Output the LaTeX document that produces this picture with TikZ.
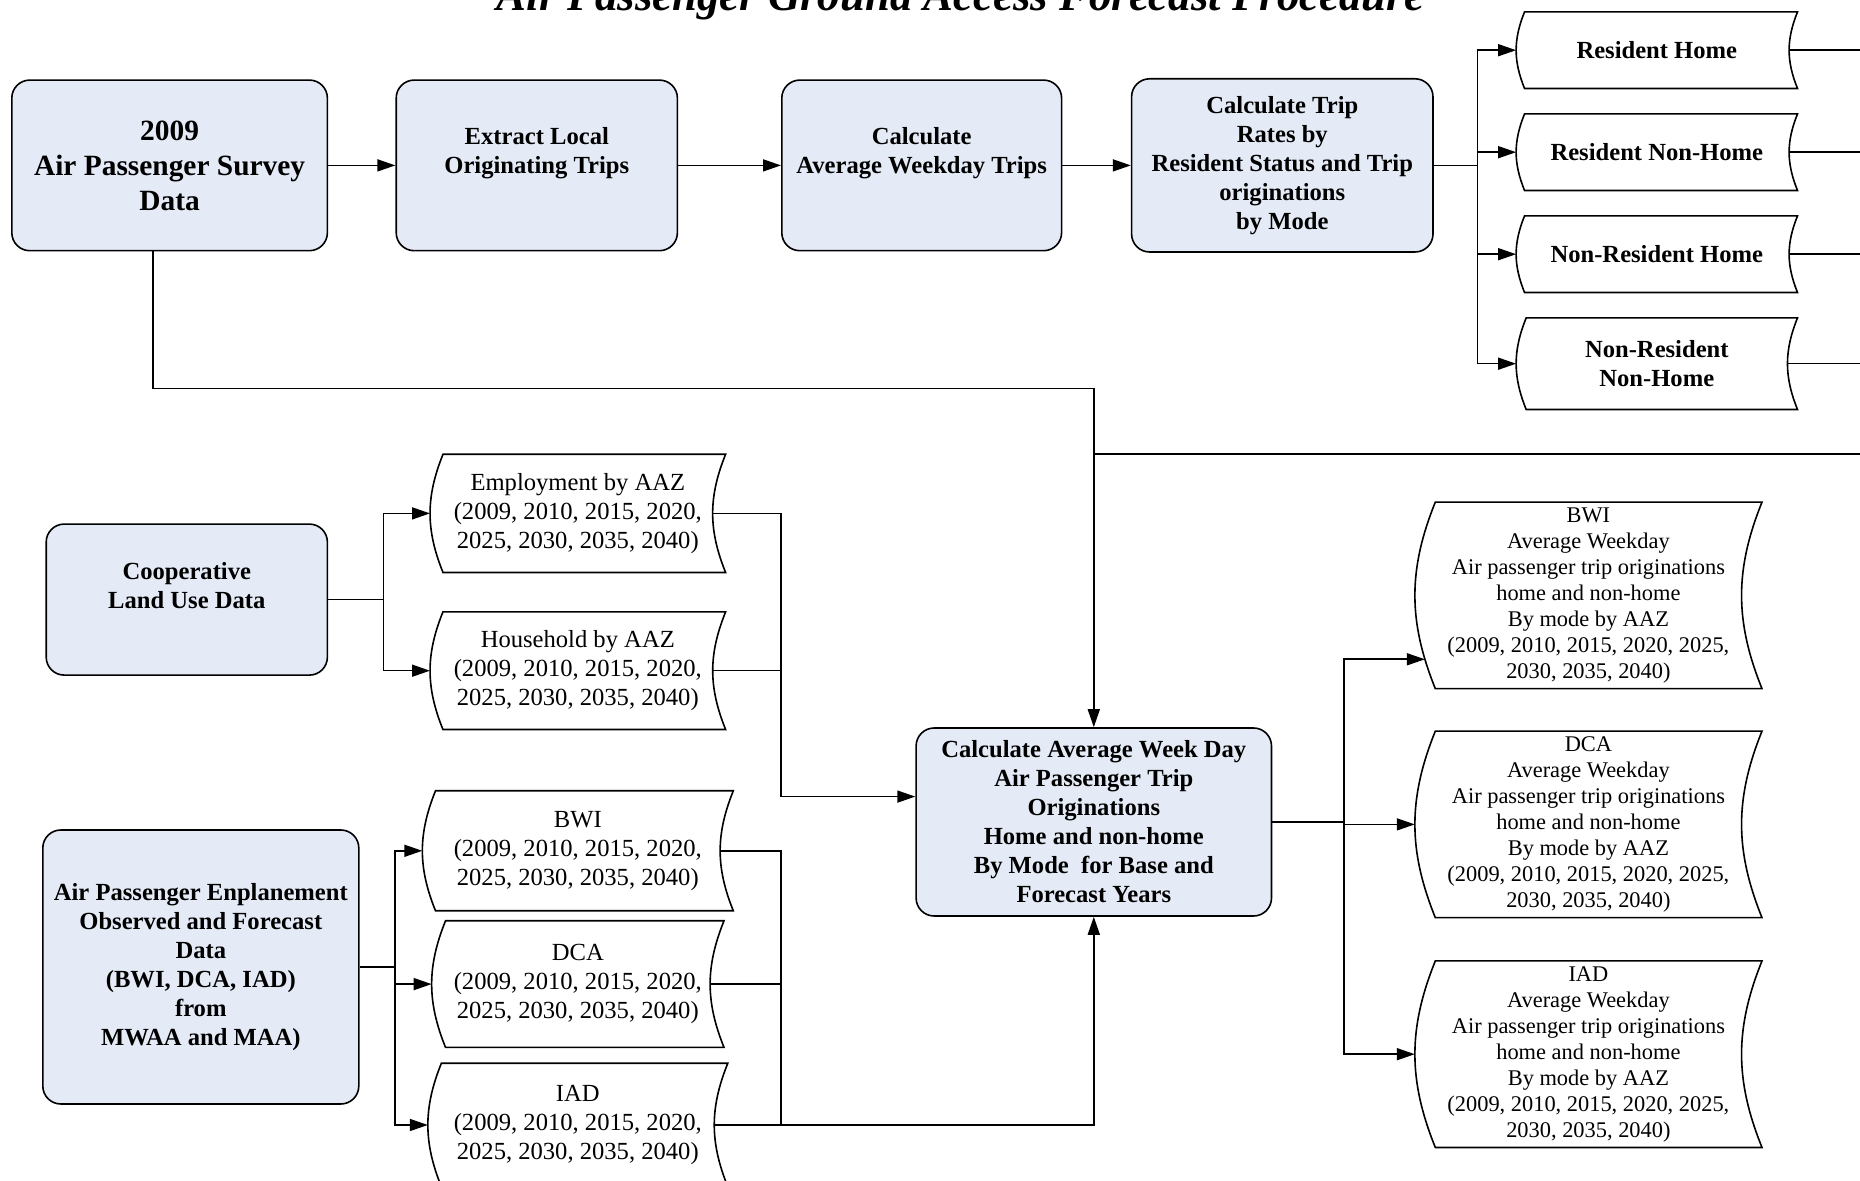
\documentclass[tikz,border=0pt]{standalone}
\usepackage{fontspec}
\setmainfont{Liberation Serif}
\usetikzlibrary{arrows.meta, positioning, calc}

\definecolor{procblue}{RGB}{229,235,246}
\newcommand{\bodyfont}{\fontsize{12.3}{14.5}\selectfont}
\newcommand{\bigbodyfont}{\fontsize{14.7}{17.5}\selectfont}
\newcommand{\smallbodyfont}{\fontsize{11.2}{13}\selectfont}
\newcommand{\titlefont}{\fontsize{22.4}{26}\selectfont\bfseries\itshape}

\begin{document}
\begin{tikzpicture}[
    x=1pt, y=1pt,
    line width=0.8pt,
    proc/.style={
        draw,
        rounded corners=9pt,
        fill=procblue,
        align=center,
        font=\bodyfont\bfseries,
        minimum width=140pt,
        minimum height=85.3pt,
        inner sep=3pt
    },
    store/.style={
        align=center,
        font=\bodyfont,
        inner sep=1pt,
        minimum width=147pt,
        minimum height=59pt
    },
    seg/.style={store, font=\bodyfont\bfseries, minimum width=139.9pt, minimum height=37.5pt},
    result/.style={store, font=\smallbodyfont, minimum width=172.8pt, minimum height=92.5pt},
    >={Triangle[length=9pt,width=6pt]}
]

\useasboundingbox (0,0) rectangle (930,-590.5);

\node[font=\titlefont, anchor=base] (title) at (480.2,-5.2)
{Air Passenger Ground Access Forecast Procedure};

\node[proc, font=\bigbodyfont\bfseries, minimum width=157.8pt] (survey) at (84.8,-82.7)
{2009\\Air Passenger Survey\\Data};

\node[proc, right=33.6pt of survey, minimum width=140.6pt] (extract)
{Extract Local\\Originating Trips\\\mbox{}};

\node[proc, right=51.4pt of extract, minimum width=139.9pt] (avgwk)
{Calculate\\Average Weekday Trips\\\mbox{}};

\node[proc, right=34.2pt of avgwk, minimum width=150.7pt, minimum height=86.6pt] (rates)
{Calculate Trip\\Rates by\\Resident Status and Trip\\originations\\by Mode};

\node[seg] (rh) at (828.4,-25.1) {Resident Home};
\node[seg, below=12.7pt of rh] (rnh) {Resident Non-Home};
\node[seg, below=12.7pt of rnh] (nrh) {Non-Resident Home};
\node[seg, below=12.7pt of nrh, minimum height=45pt] (nrnh) {Non-Resident\\Non-Home};

\node[proc, minimum width=140.6pt, minimum height=75.5pt] (coop) at (93.4,-299.8)
{Cooperative\\Land Use Data\\\mbox{}};

\node[store, minimum height=58.3pt] (emp) at (288.9,-256.7)
{Employment by AAZ\\(2009, 2010, 2015, 2020,\\2025, 2030, 2035, 2040)};

\node[store, below=19.7pt of emp, minimum height=58pt] (hh)
{Household by AAZ\\(2009, 2010, 2015, 2020,\\2025, 2030, 2035, 2040)};

\node[proc, minimum width=158pt, minimum height=137pt] (enp) at (100.4,-483.5)
{Air Passenger Enplanement\\Observed and Forecast\\Data\\(BWI, DCA, IAD)\\from\\MWAA and MAA)};

\node[store, minimum width=154.7pt, minimum height=59.2pt] (bwi) at (288.9,-425.4)
{BWI\\(2009, 2010, 2015, 2020,\\2025, 2030, 2035, 2040)};

\node[store, below=5pt of bwi, minimum width=145.4pt, minimum height=62.5pt] (dca)
{DCA\\(2009, 2010, 2015, 2020,\\2025, 2030, 2035, 2040)};

\node[store, below=7.9pt of dca, minimum width=149.2pt, minimum height=61pt] (iad)
{IAD\\(2009, 2010, 2015, 2020,\\2025, 2030, 2035, 2040)};

\node[proc, minimum width=177.7pt, minimum height=94pt] (calc) at (546.9,-411)
{Calculate Average Week Day\\Air Passenger Trip\\Originations\\Home and non-home\\By Mode~ for Base and\\Forecast Years};

\node[result] (obwi) at (794.2,-297.7)
{BWI\\Average Weekday\\Air passenger trip originations\\home and non-home\\By mode by AAZ\\(2009, 2010, 2015, 2020, 2025,\\2030, 2035, 2040)};

\node[result, below=21.2pt of obwi] (odca)
{DCA\\Average Weekday\\Air passenger trip originations\\home and non-home\\By mode by AAZ\\(2009, 2010, 2015, 2020, 2025,\\2030, 2035, 2040)};

\node[result, below=21.6pt of odca] (oiad)
{IAD\\Average Weekday\\Air passenger trip originations\\home and non-home\\By mode by AAZ\\(2009, 2010, 2015, 2020, 2025,\\2030, 2035, 2040)};

\foreach \s in {rh,rnh,nrh,nrnh,emp,hh,bwi,dca,iad,obwi,odca,oiad}
  \draw let \p1 = ($(\s.north)-(\s.south)$), \n1 = {0.11*\y1} in
    ([xshift=\n1]\s.north west) -- (\s.north east)
    to[bend right=22] node[coordinate, pos=.5] (\s-out) {} (\s.south east)
    -- ([xshift=\n1]\s.south west)
    to[bend left=22] node[coordinate, pos=.15] (\s-lo) {} ([xshift=\n1]\s.north west)
    -- cycle;

\coordinate (split1) at ([xshift=21.9pt]rates.east);
\coordinate (split2) at ([xshift=27.6pt]coop.east);
\coordinate (split3) at ([xshift=35.7pt]calc.east);
\coordinate (split4) at ([xshift=17.8pt]enp.east);
\coordinate (rim) at (930,0);
\coordinate (feed) at ([yshift=136.5pt]calc.north);

\draw[->] (survey) -- (extract);
\draw[->] (extract) -- (avgwk);
\draw[->] (avgwk) -- (rates);

\draw (rates) -- (split1);
\foreach \s in {rh,rnh,nrh,nrnh} {
  \draw[->] (split1) |- (\s);
  \draw (\s-out) -- (\s-out -| rim);
}

\draw[->] ([xshift=-8.3pt]survey.south) -- ++(0,-68.5) -| (calc.north);
\draw (feed) -- (feed -| rim);

\draw (coop) -- (split2);
\draw[->] (split2) |- (emp);
\draw[->] (split2) |- (hh);
\draw[->] (emp-out) -- (emp-out -| avgwk.west) |- ([yshift=12.7pt]calc.west);
\draw (hh-out) -- (hh-out -| avgwk.west);

\draw (enp) -- (split4);
\foreach \s in {bwi,dca,iad} \draw[->] (split4) |- (\s);
\draw (bwi-out) -- (bwi-out -| avgwk.west) -- (iad-out -| avgwk.west);
\draw (dca-out) -- (dca-out -| avgwk.west);
\draw[->] (iad-out) -| (calc.south);

\draw (calc) -- (split3);
\draw[->] (split3) |- (obwi-lo);
\draw[->] (split3) |- (odca);
\draw[->] (split3) |- (oiad);

\end{tikzpicture}
\end{document}
